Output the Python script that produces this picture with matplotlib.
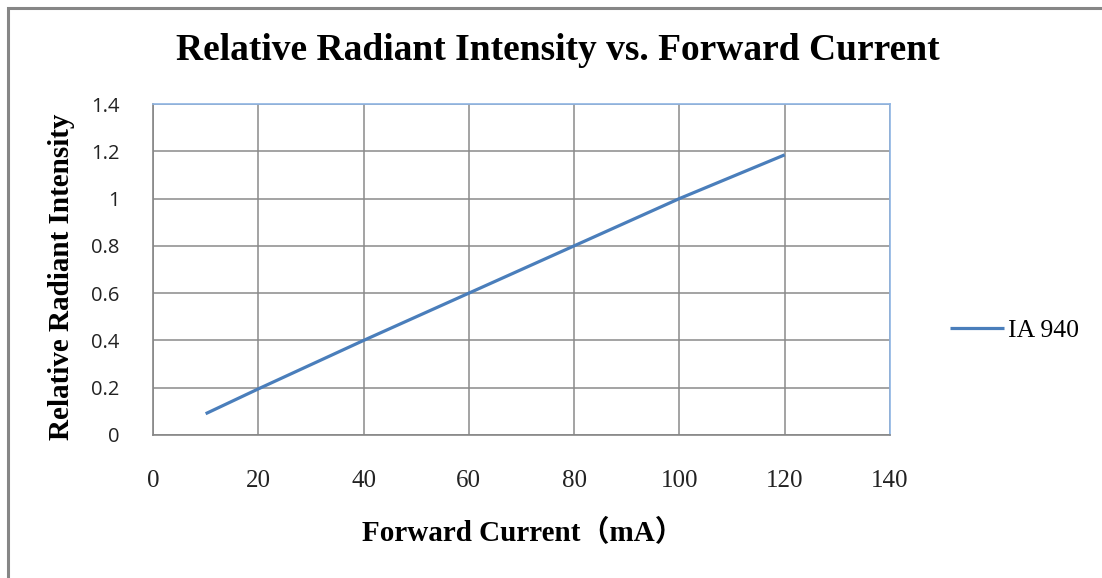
import matplotlib.pyplot as plt
from matplotlib.patches import Rectangle

# data
forward_current = [10, 20, 40, 60, 80, 100, 120]
intensity = [0.09, 0.195, 0.40, 0.60, 0.80, 1.0, 1.185]
series_name = "IA 940"

serif = ['Liberation Serif', 'Noto Sans CJK SC']

fig = plt.figure(figsize=(11.02, 5.78), dpi=100)
# outer chart border
fig.patches.append(Rectangle((8 / 1102, -0.05), 1.2, 1 - 8 / 578 + 0.05, transform=fig.transFigure,
                             fill=False, edgecolor='#868686', linewidth=2.2))

ax = fig.add_axes([153 / 1102, 1 - 435 / 578, (890 - 153) / 1102, (435 - 104) / 578])
ax.plot(forward_current, intensity, color='#4A7EBB', linewidth=2.3, label=series_name,
        solid_capstyle='butt')

ax.set_xlim(0, 140)
ax.set_ylim(0, 1.4)
ax.set_xticks(range(0, 141, 20))
ax.set_yticks([0, 0.2, 0.4, 0.6, 0.8, 1.0, 1.2, 1.4])
ax.set_yticklabels(['0', '0.2', '0.4', '0.6', '0.8', '1', '1.2', '1.4'])
ax.grid(True, color='#8a8a8a', linewidth=1.1)
ax.set_axisbelow(True)
ax.tick_params(length=0)
ax.tick_params(axis='x', pad=25)
ax.tick_params(axis='y', pad=24)
for lab in ax.get_xticklabels():
    lab.set_family('Liberation Serif')
    lab.set_fontsize(18)
    lab.set_color('#222222')
for lab in ax.get_yticklabels():
    lab.set_family('Open Sans')
    lab.set_fontsize(14.5)
    lab.set_color('#222222')

ax.spines['left'].set_color('#868686')
ax.spines['bottom'].set_color('#868686')
ax.spines['top'].set_color('#8EB4E3')
ax.spines['right'].set_color('#8EB4E3')
for s in ax.spines.values():
    s.set_linewidth(1.2)

fig.text(558 / 1102, 1 - 50 / 578, "Relative Radiant Intensity vs. Forward Current",
         family=serif, fontsize=27, fontweight='bold', ha='center', va='center')
fig.text(62 / 1102, 1 - 277 / 578, "Relative Radiant Intensity", family=serif,
         fontsize=21, fontweight='bold', rotation=90, ha='center', va='center')
fig.text(523 / 1102, 1 - 533 / 578, "Forward Current（mA）", family=serif,
         fontsize=21, fontweight='bold', ha='center', va='center')

leg = ax.legend(loc='center left', bbox_to_anchor=(1.0814, 0.317), frameon=False,
                prop={'family': 'Liberation Serif', 'size': 18.5}, handlelength=2.1,
                handletextpad=0.15, borderaxespad=0, borderpad=0)

fig.savefig('out.png', dpi=100)
